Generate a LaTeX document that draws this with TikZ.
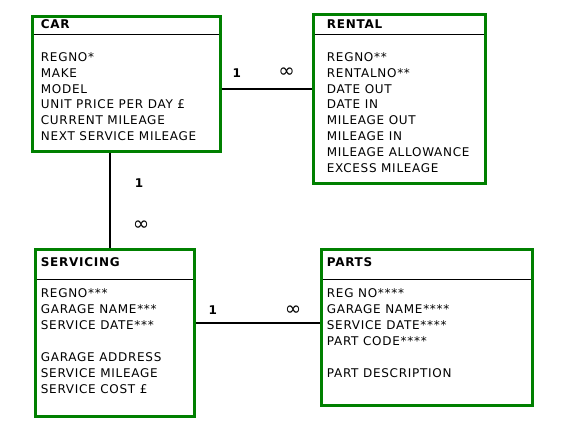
\documentclass[tikz,border=0pt]{standalone}
\usepackage{fontspec}
\setmainfont{DejaVu Sans}[LetterSpace=6]
\definecolor{ergreen}{HTML}{008000}
\begin{document}
\begin{tikzpicture}[x=1pt, y=-1pt,
  entity/.style={shape=rectangle, draw=ergreen, line width=3pt},
  title/.style={anchor=base west, inner sep=0pt, font=\fontsize{12pt}{15.9pt}\selectfont\bfseries},
  attrs/.style={anchor=north west, inner sep=0pt, align=left, font=\fontsize{12pt}{15.9pt}\selectfont},
  card/.style={inner sep=0pt, font=\fontsize{12pt}{14pt}\selectfont\bfseries},
  many/.style={inner sep=0pt, font=\fontsize{12pt}{14pt}\selectfont},
  link/.style={draw=black, line width=2pt},
  divider/.style={draw=black, line width=1pt}]
\useasboundingbox (0,0) rectangle (566,426);
\node[entity, minimum width=187.5pt, minimum height=134.5pt] (car) at (126.25,83.75) {};
\node[entity, minimum width=172pt, minimum height=169pt] (rental) at (399.3,98.5) {};
\node[entity, minimum width=159.1pt, minimum height=166.3pt] (servicing) at (115.25,332.85) {};
\node[entity, minimum width=210.7pt, minimum height=156pt] (parts) at (426.65,327.7) {};
\node[title] (cartitle) at (40.7,28.7) {CAR};
\node[title] (rentaltitle) at (326.7,28.7) {RENTAL};
\node[title] (servicingtitle) at (40.7,266) {SERVICING};
\node[title] (partstitle) at (326.7,266) {PARTS};
\node[attrs] (carattrs) at (40.7,49.9) {\strut REGNO*\\MAKE\\MODEL\\UNIT PRICE PER DAY £\\CURRENT MILEAGE\\NEXT SERVICE MILEAGE};
\node[attrs] (rentalattrs) at (326.7,49.9) {\strut REGNO**\\RENTALNO**\\DATE OUT\\DATE IN\\MILEAGE OUT\\MILEAGE IN\\MILEAGE ALLOWANCE\\EXCESS MILEAGE};
\node[attrs] (servicingattrs) at (40.7,286.6) {\strut REGNO***\\GARAGE NAME***\\SERVICE DATE***\\[15.9pt]GARAGE ADDRESS\\SERVICE MILEAGE\\SERVICE COST £};
\node[attrs] (partsattrs) at (326.7,286.6) {\strut REG NO****\\GARAGE NAME****\\SERVICE DATE****\\PART CODE****\\[15.9pt]PART DESCRIPTION};
\draw[divider] ([xshift=3pt,yshift=-19pt]car.north west) -- ([xshift=-3pt,yshift=-19pt]car.north east);
\draw[divider] ([xshift=3pt,yshift=-21.5pt]rental.north west) -- ([xshift=-3pt,yshift=-21.5pt]rental.north east);
\draw[divider] ([xshift=3pt,yshift=-31pt]servicing.north west) -- ([xshift=-3pt,yshift=-31pt]servicing.north east);
\draw[divider] ([xshift=3pt,yshift=-31pt]parts.north west) -- ([xshift=-3pt,yshift=-31pt]parts.north east);
% relationships
\coordinate (carlink) at ([yshift=-5pt]car.east);
\coordinate (svclink) at ([xshift=-16.45pt]car.south);
\coordinate (partlink) at ([yshift=10pt]servicing.east);
\path[link] (carlink) -- (carlink -| rental.west);
\path[link] (svclink) -- (svclink |- servicing.north);
\path[link] (partlink) -- (partlink -| parts.west);
\node[card] (c1) at (236.7,72.8) {1};
\node[many] (cn1) at (286.7,73) {\scalebox{1.65}{∞}};
\node[card] (c2) at (139,183) {1};
\node[many] (cn2) at (141,226) {\scalebox{1.65}{∞}};
\node[card] (c3) at (212.7,309.7) {1};
\node[many] (cn3) at (293,310.5) {\scalebox{1.65}{∞}};
\end{tikzpicture}
\end{document}
